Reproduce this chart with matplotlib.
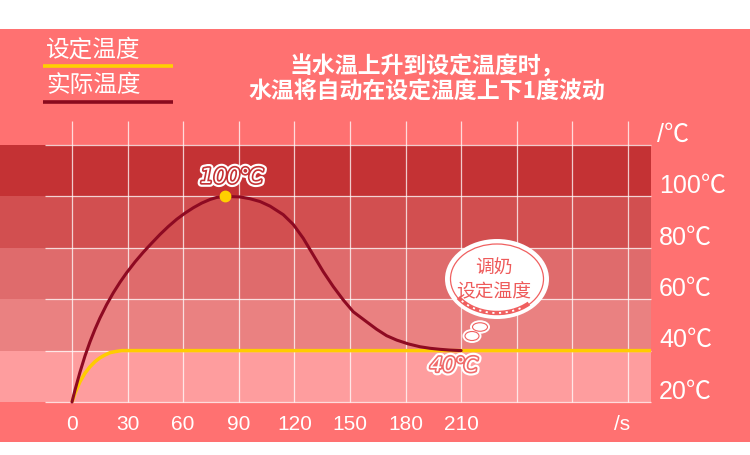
import matplotlib
matplotlib.use("Agg")
import matplotlib.pyplot as plt
import matplotlib.patheffects as pe
from matplotlib.patches import Ellipse, Arc
import numpy as np

plt.rcParams['font.family'] = ['Noto Sans CJK SC', 'DejaVu Sans']

# ---------------- data ----------------
time_actual = [0, 1.6, 4.3, 7, 9.7, 12.4, 15.1, 18.7, 22.3, 25.9, 29.5, 34, 38.5, 43,
               47.5, 52, 56.5, 61, 65.5, 70, 74.5, 78.1, 82.6,
               90.7, 96, 101.5, 106.9, 114.0, 119.4, 124.8, 130.2, 135.6, 141.0,
               146.4, 151.8, 159.0, 164.4, 169.8, 175.2, 181.5, 187.8, 193.2,
               198.6, 204, 210]
temp_actual = [20, 24.6, 31.6, 37.9, 43.4, 48.3, 52.7, 57.9, 62.5, 66.6, 70.3, 74.5, 78.3, 81.8,
               85.2, 88.3, 91.1, 93.5, 95.6, 97.4, 98.8, 99.6, 100,
               99.8, 99.1, 98.0, 96.2, 92.9, 89.1, 83.7, 77.2, 70.7, 64.9,
               59.7, 55.1, 51.2, 48.3, 45.8, 44.1, 42.6, 41.5, 40.9,
               40.5, 40.2, 40]
time_set = [0, 1.6, 4.3, 7, 9.7, 12.4, 15.1, 17.8, 20.5, 23.2, 26.8, 30, 312.5]
temp_set = [20, 23.4, 27.9, 31.2, 33.7, 35.7, 37.2, 38.3, 39.2, 39.6, 40, 40, 40]

band_levels = [20, 40, 60, 80, 100, 120]
band_colors = ['#FE9D9E', '#EA8181', '#DF6B6C', '#D24F50', '#C43234']
x_grid = [0, 30, 60, 90, 120, 150, 180, 210, 240, 270, 300]
x_tick_vals = [0, 30, 60, 90, 120, 150, 180, 210]
x_tick_labels = ['0', '30', '60', '90', '120', '150', '180', '210']
y_tick_vals = [20, 40, 60, 80, 100]
y_tick_labels = ['20℃', '40℃', '60℃', '80℃', '100℃']
legend_labels = ['设定温度', '实际温度']
title_lines = ['当水温上升到设定温度时，', '水温将自动在设定温度上下1度波动']
bubble_lines = ['调奶', '设定温度']
set_label = '40℃'
peak_label = '100℃'

# ---------------- pixel mapping helpers ----------------
W, H = 750, 455
def t_of(px):
    return (px - 72) / 1.853
def v_of(py):
    return 20 + (402 - py) / 2.57
def dt(wpx):
    return wpx / 1.853
def dv(hpx):
    return hpx / 2.57

fig = plt.figure(figsize=(7.5, 4.55), dpi=100)
fig.patch.set_facecolor('white')
ax = fig.add_axes([0, 0, 1, 1])
ax.set_facecolor('white')
ax.set_xlim(t_of(0), t_of(W))
ax.set_ylim(v_of(H), v_of(0))
ax.axis('off')

# pink background
ax.axhspan(v_of(441.5), v_of(28.5), color='#FF7171', zorder=0, lw=0)

# bands
xmax_frac = 651 / W
for lo, hi, c in zip(band_levels[:-1], band_levels[1:], band_colors):
    ax.axhspan(lo, hi, xmin=0, xmax=xmax_frac, color=c, zorder=1, lw=0)

# grid lines
ax.hlines(band_levels, t_of(45), t_of(651), color='white', lw=0.9, alpha=0.75, zorder=2)
ax.vlines(x_grid, 20, v_of(121), color='white', lw=0.9, alpha=0.75, zorder=2)

# curves
ax.plot(time_set, temp_set, color='#FFCC00', lw=2.5, solid_capstyle='butt',
        solid_joinstyle='round', zorder=4)
ax.plot(time_actual, temp_actual, color='#8E0A22', lw=2.2, solid_capstyle='round',
        solid_joinstyle='round', zorder=5)
imax = int(np.argmax(temp_actual))
ax.plot([time_actual[imax]], [temp_actual[imax]], 'o', color='#FFD000', ms=7.5,
        mec='#FFD000', zorder=6)

# x tick labels
digit_font = ['Liberation Sans', 'Noto Sans CJK SC']
for xv, lab in zip(x_tick_vals, x_tick_labels):
    ax.text(xv, v_of(425), lab, ha='center', va='center', color='white',
            fontsize=15, family=digit_font, zorder=7)
ax.text(t_of(622), v_of(425), '/s', ha='center', va='center', color='white',
        fontsize=15, family=digit_font, zorder=7)

# y labels (right side)
for yv, lab in zip(y_tick_vals, y_tick_labels):
    ax.text(t_of(659), yv + 4, lab, ha='left', va='center', color='white',
            fontsize=18, family=digit_font, zorder=7)
ax.text(t_of(657), 124, '/℃', ha='left', va='center', color='white',
        fontsize=18, family=digit_font, zorder=7)

# annotations with outlined style
def outlined(inner):
    return [pe.Stroke(linewidth=5.5, foreground='white'),
            pe.Stroke(linewidth=2.4, foreground=inner), pe.Normal()]

ax.text(t_of(232), v_of(177), peak_label, ha='center', va='center', color='white',
        fontsize=15, style='italic', family=['DejaVu Sans'],
        path_effects=outlined('#C43234'), zorder=8)
ax.text(t_of(454), v_of(366), set_label, ha='center', va='center', color='white',
        fontsize=14.5, style='italic', family=['DejaVu Sans'],
        path_effects=outlined('#F06A6A'), zorder=8)

# thought bubble
bcx, bcy = 497, 279
outer = Ellipse((t_of(bcx), v_of(bcy)), dt(104), dv(80), facecolor='white',
                edgecolor='none', zorder=9)
ax.add_patch(outer)
inner = Ellipse((t_of(bcx), v_of(bcy)), dt(93), dv(70), facecolor='white',
                edgecolor='#F06060', lw=0.9, zorder=10)
ax.add_patch(inner)
arc = Arc((t_of(bcx), v_of(bcy - 1)), dt(93), dv(70), theta1=200, theta2=330,
          edgecolor='#F06060', lw=3.2, zorder=10)
ax.add_patch(arc)
arc2 = Arc((t_of(bcx), v_of(bcy - 1)), dt(93), dv(70), theta1=205, theta2=320,
           edgecolor='white', lw=1.3, linestyle=(0, (1.2, 2.5)), zorder=11)
ax.add_patch(arc2)
for (cx, cy, w, h) in [(480, 327, 15, 8.5), (472, 336, 14, 9)]:
    ax.add_patch(Ellipse((t_of(cx), v_of(cy)), dt(w + 5), dv(h + 5), facecolor='white',
                         edgecolor='none', zorder=9))
for (cx, cy, w, h) in [(480, 327, 15, 8.5), (472, 336, 14, 9)]:
    ax.add_patch(Ellipse((t_of(cx), v_of(cy)), dt(w), dv(h), facecolor='white',
                         edgecolor='#F06060', lw=0.8, zorder=10))
ax.text(t_of(494), v_of(268), bubble_lines[0], ha='center', va='center',
        color='#EE5A5A', fontsize=13.5, zorder=12)
ax.text(t_of(494), v_of(292), bubble_lines[1], ha='center', va='center',
        color='#EE5A5A', fontsize=13.5, zorder=12)

# legend (top-left)
ax.text(t_of(46), v_of(50), legend_labels[0], ha='left', va='center', color='white',
        fontsize=17, zorder=7)
ax.text(t_of(46), v_of(86), legend_labels[1], ha='left', va='center', color='white',
        fontsize=17, zorder=7)
ax.plot([t_of(43), t_of(173)], [v_of(66), v_of(66)], color='#FFD000', lw=2.6,
        solid_capstyle='butt', zorder=7)
ax.plot([t_of(43), t_of(173)], [v_of(102), v_of(102)], color='#8A0A1E', lw=2.6,
        solid_capstyle='butt', zorder=7)

# title
ax.text(t_of(427), v_of(67), title_lines[0], ha='center', va='center', color='white',
        fontsize=16.5, fontweight='bold', zorder=7)
ax.text(t_of(427), v_of(92), title_lines[1], ha='center', va='center', color='white',
        fontsize=16.5, fontweight='bold', zorder=7)

fig.savefig('out.png', dpi=100, facecolor='white')
